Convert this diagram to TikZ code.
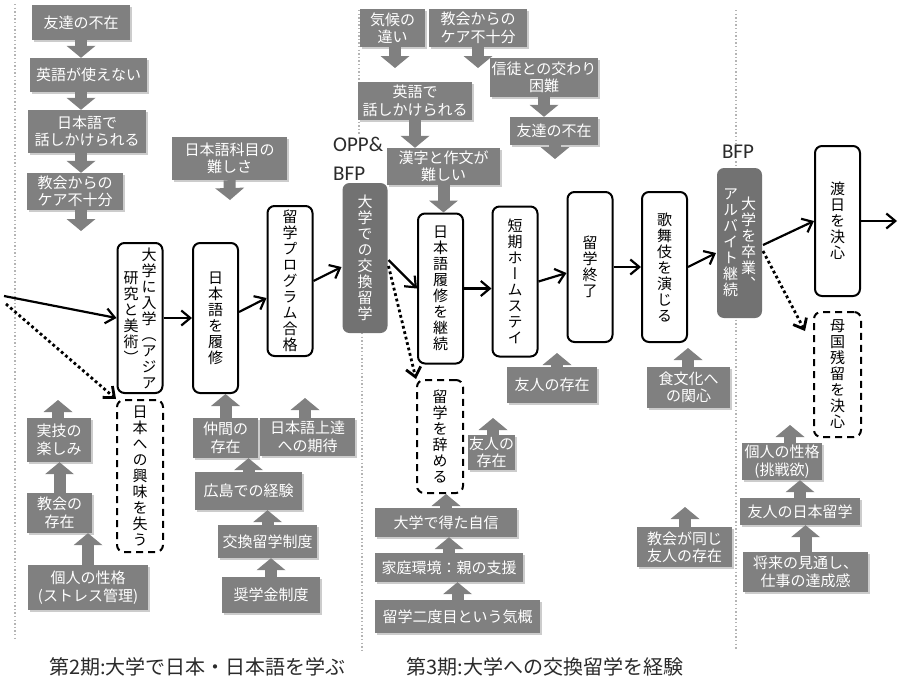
\documentclass[tikz,border=0pt]{standalone}
\usepackage{fontspec}
\setmainfont{Noto Sans CJK JP}
\newfontfamily\tatefont[RawFeature=+vert]{Noto Sans CJK JP}
\newfontfamily\latinfont{Carlito}
\usetikzlibrary{arrows.meta,shadows}

\definecolor{boxgray}{HTML}{808080}
\definecolor{hubgray}{HTML}{727272}
\definecolor{sepgray}{HTML}{B4B4B4}
\definecolor{inkgray}{HTML}{2B2B2B}

% vertical (tategaki) column: one character per row, fixed pitch
\ExplSyntaxOn
\NewDocumentCommand\tate{m}
 {
  \tl_clear:N \l_tmpa_tl
  \tl_map_inline:nn {#1} { \tl_put_right:Nn \l_tmpa_tl { ##1 \cr } }
  $\vcenter{\baselineskip=16pt \lineskiplimit=-\c_max_dim
    \halign{\hfil##\hfil\cr \l_tmpa_tl}}$
 }
\ExplSyntaxOff

\begin{document}
\begin{tikzpicture}[x=1pt,y=-1pt,
  stage/.style={draw, line width=2pt, rounded corners=7pt, fill=white, minimum width=45pt, minimum height=150pt, inner sep=0pt, font=\tatefont\fontsize{15}{16}\selectfont},
  hub/.style={stage, draw=none, fill=hubgray, text=white},
  quit/.style={stage, dash pattern=on 7pt off 5pt},
  fac/.style={fill=boxgray, text=white, align=center, inner sep=1pt, font=\fontsize{15}{17.5}\selectfont, drop shadow={shadow xshift=2pt, shadow yshift=-2pt, fill=black, opacity=0.2}},
  wh/.style 2 args={minimum width=#1pt, minimum height=#2pt},
  go/.style={line width=2.2pt, -{Straight Barb[length=9pt,width=15pt]}},
  maybe/.style={go, line width=2.8pt, dash pattern=on 2.8pt off 2.8pt},
  blk/.style={draw=boxgray, line width=12pt, -{Triangle[width=29pt,length=12pt,line width=0pt]}},
  sep/.style={draw=sepgray, line width=1.4pt, dash pattern=on 1.4pt off 2.2pt},
]
\useasboundingbox (0,0) rectangle (899,691);
\fill[white] (0,0) rectangle (899,691);

% Period separators
\draw[sep] (15,4) -- (15,640);
\draw[sep] (359,10) -- (359,135);
\draw[sep] (362,333) -- (362,650);
\draw[sep] (736,10) -- (736,650);

% Stages
\node[stage] (b1) at (140,318) {\tate{研究と美術）}\hspace{3pt}\tate{大学に入学（アジア}};
\node[stage] (b2) at (215.5,318) {\tate{日本語を履修}};
\node[stage] (b3) at (290,281) {\tate{留学プログラム合格}};
\node[hub] (b4) at (365,258) {\tate{大学での交換留学}};
\node[stage] (b5) at (440.5,288.5) {\tate{日本語履修を継続}};
\node[stage] (b6) at (515,281.5) {\tate{短期ホームステイ}};
\node[stage] (b7) at (590,267) {\tate{留学終了}};
\node[stage] (b8) at (664.5,267) {\tate{歌舞伎を演じる}};
\node[hub] (b9) at (739.5,243) {\tate{アルバイト継続}\hspace{3pt}\tate{大学を卒業、}};
\node[stage] (b10) at (837.5,221) {\tate{渡日を決心}};
\node[quit, wh={46}{152}] (d1) at (140,476) {\tate{日本への興味を失う}};
\node[quit, wh={46}{113}] (d2) at (440,436.5) {\tate{留学を辞める}};
\node[quit, wh={47}{125}] (d3) at (837.5,374.5) {\tate{母国残留を決心}};

% Labels
\node[font=\latinfont\fontsize{21}{29}\selectfont, text=inkgray, align=left, anchor=west, inner sep=0pt] (opp) at (333,159) {OPP\&\\BFP};
\node[font=\latinfont\fontsize{21}{29}\selectfont, text=inkgray, fill=white, inner sep=1pt] (bfp) at (738,152) {BFP};
\node[font=\fontsize{20}{24}\selectfont, text=inkgray] (cap2) at (197.5,667) {第2期:大学で日本・日本語を学ぶ};
\node[font=\fontsize{20}{24}\selectfont, text=inkgray] (cap3) at (545,667) {第3期:大学への交換留学を経験};

% Factors, period 2
\node[fac, wh={98}{35}] (p1a) at (81,22.5) {友達の不在};
\node[fac, wh={117}{34}] (p1b) at (88.5,75) {英語が使えない};
\node[fac, wh={118}{43}] (p1c) at (87,131.5) {日本語で\\話しかけられる};
\node[fac, wh={96}{37}] (p1d) at (75,191.5) {教会からの\\ケア不十分};
\node[fac, wh={115}{43}] (p3) at (229.5,158.5) {日本語科目の\\難しさ};
\node[fac, wh={64}{44}] (q1a) at (59,440) {実技の\\楽しみ};
\node[fac, wh={65}{40}] (q1b) at (59.5,513) {教会の\\存在};
\node[fac, wh={120}{45}] (q1c) at (88,587.5) {個人の性格\\(ストレス管理)};
\node[fac, wh={65}{40}] (q2a) at (225.5,438) {仲間の\\存在};
\node[fac, wh={95}{38}] (q2b) at (307.5,437) {日本語上達\\への期待};
\node[fac, wh={107}{38}] (q2c) at (248.5,491) {広島での経験};
\node[fac, wh={99}{33}] (q2d) at (267.5,541.5) {交換留学制度};
\node[fac, wh={98}{36}] (q2e) at (271,595) {奨学金制度};

% Factors, period 3
\node[fac, wh={65}{38}] (p4a) at (392.5,28) {気候の\\違い};
\node[fac, wh={98}{38}] (p4b) at (478,28) {教会からの\\ケア不十分};
\node[fac, wh={108}{39}] (p4c) at (544,77.5) {信徒との交わり\\困難};
\node[fac, wh={88}{28}] (p4d) at (554,131) {友達の不在};
\node[fac, wh={114}{38}] (p4e) at (415,101) {英語で\\話しかけられる};
\node[fac, wh={113}{37}] (p4f) at (443.5,166.5) {漢字と作文が\\難しい};
\node[fac, wh={90}{36}] (q5a) at (552,385) {友人の存在};
\node[fac, wh={47}{35}] (q5b) at (491.5,452.5) {友人の\\存在};
\node[fac, wh={142}{29}] (q5c) at (446,522.5) {大学で得た自信};
\node[fac, wh={148}{29}] (q5d) at (449,567.5) {家庭環境：親の支援};
\node[fac, wh={165}{33}] (q5e) at (457.5,616.5) {留学二度目という気概};
\node[fac, wh={83}{41}] (q6a) at (688.5,387.5) {食文化へ\\の関心};
\node[fac, wh={95}{40}] (q6b) at (684.5,547) {教会が同じ\\友人の存在};
\node[fac, wh={80}{37}] (q7a) at (782,461.5) {個人の性格\\(挑戦欲)};
\node[fac, wh={120}{27}] (q7b) at (800,511.5) {友人の日本留学};
\node[fac, wh={125}{40}] (q7c) at (805.5,572) {将来の見通し、\\仕事の達成感};

% Free ends
\coordinate (in0) at (4,296);
\coordinate (in1) at (6,304);
\coordinate (out) at (897,221);
\coordinate (p1end) at (81,231);
\coordinate (p3end) at (230,200);
\coordinate (p4aend) at (395,68);
\coordinate (p4bend) at (478,68);
\coordinate (p4dend) at (555,159);
\coordinate (q1aend) at (58,400);
\coordinate (q2bend) at (305,398);
\coordinate (q5aend) at (557,353);
\coordinate (q5bend) at (493,418);
\coordinate (q6aend) at (688,348);
\coordinate (q6bend) at (685,507);
\coordinate (q7aend) at (790,425);

% Block arrows
\draw[blk] (p1a.south) -- (p1a.south |- p1b.north);
\draw[blk] (p1b.south -| p1a.south) -- (p1c.north -| p1a.south);
\draw[blk] (p1c.south -| p1a.south) -- (p1d.north -| p1a.south);
\draw[blk] (p1d.south -| p1end) -- (p1end);
\draw[blk] (p3.south) -- (p3end);
\draw[blk] (q1a.north -| q1aend) -- (q1aend);
\draw[blk] (q1b.north) -- (q1b.north |- q1a.south);
\draw[blk] (q1c.north) -- (q1c.north |- q1b.south);
\draw[blk] (q2a.north) -- (q2a.north |- b2.south);
\draw[blk] (q2b.north -| q2bend) -- (q2bend);
\draw[blk] (q2c.north) -- (q2c.north |- q2a.south);
\draw[blk] (q2d.north) -- (q2d.north |- q2c.south);
\draw[blk] (q2e.north) -- (q2e.north |- q2d.south);
\draw[blk] (p4a.south -| p4aend) -- (p4aend);
\draw[blk] (p4b.south) -- (p4bend);
\draw[blk] (p4c.south) -- (p4c.south |- p4d.north);
\draw[blk] (p4d.south -| p4dend) -- (p4dend);
\draw[blk] (p4e.south) -- (p4e.south |- p4f.north);
\draw[blk] (p4f.south) -- (p4f.south |- b5.north);
\draw[blk] (q5a.north -| q5aend) -- (q5aend);
\draw[blk] (q5b.north -| q5bend) -- (q5bend);
\draw[blk] (q5c.north) -- (q5c.north |- d2.south);
\draw[blk] (q5d.north) -- (q5d.north |- q5c.south);
\draw[blk] (q5e.north) -- (q5e.north |- q5d.south);
\draw[blk] (q6a.north -| q6aend) -- (q6aend);
\draw[blk] (q6b.north -| q6bend) -- (q6bend);
\draw[blk] (q7a.north -| q7aend) -- (q7aend);
\draw[blk] (q7b.north) -- (q7b.north |- q7a.south);
\draw[blk] (q7c.north) -- (q7c.north |- q7b.south);

% Main path
\draw[go] (in0) -- (b1.west);
\draw[go] (b1.east) -- (b2.west);
\draw[go] ([yshift=6pt]b2.east) -- ([yshift=-17pt]b3.west);
\draw[go] (b3.east) -- ([yshift=-9pt]b4.west);
\draw[go] ([yshift=-2pt]b4.east) -- (b5.west);
\draw[go] (b5.east) -- (b5.east -| b6.west);
\draw[go] (b6.east) -- ([yshift=-6pt]b7.west);
\draw[go] (b7.east) -- (b8.west);
\draw[go] (b8.east) -- ([yshift=-10pt]b9.west);
\draw[go] ([yshift=-2pt]b9.east) -- (b10.west);
\draw[go] (b10.east) -- (out);

% Drop-out paths
\draw[maybe] (in1) -- (d1.north west);
\draw[maybe] ([yshift=-8pt]b4.east) -- (d2.north west);
\draw[maybe] ([yshift=-8pt]b9.east) -- ([xshift=-8pt,yshift=-20pt]d3.north west);
\end{tikzpicture}
\end{document}
